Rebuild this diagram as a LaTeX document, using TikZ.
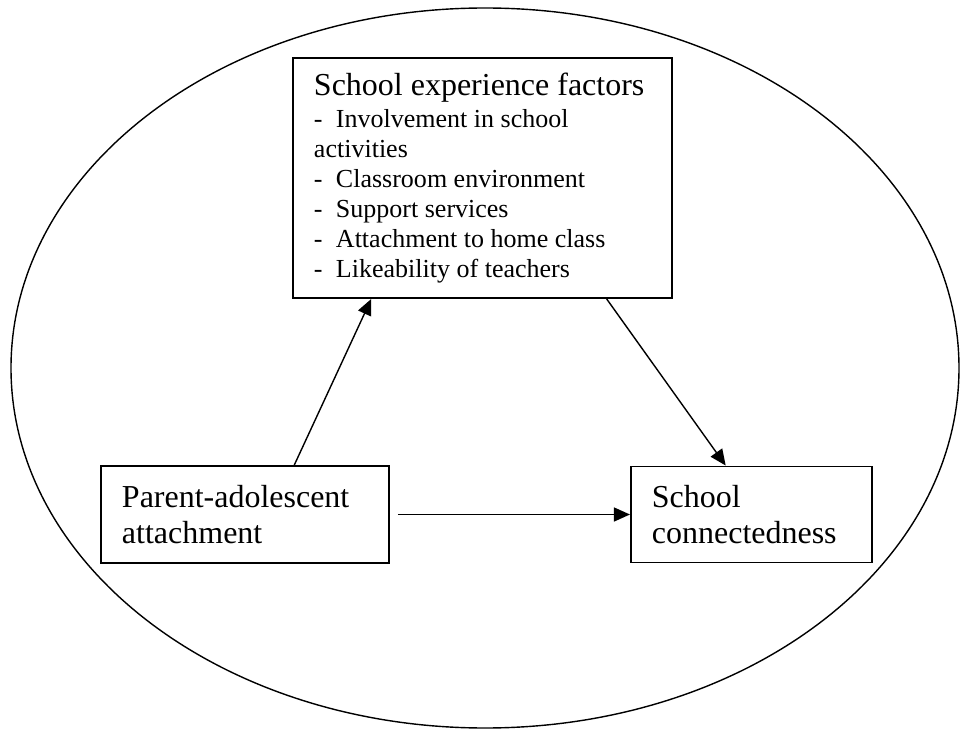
\documentclass[tikz,border=0pt]{standalone}
\usepackage{fontspec}
\setmainfont{Liberation Serif}
\usetikzlibrary{arrows.meta, positioning, calc}
\newcommand{\headfont}{\fontsize{18.2pt}{20.8pt}\selectfont}
\newcommand{\listfont}{\fontsize{14.8pt}{17.1pt}\selectfont}
\newcommand{\dashitem}{\makebox[0.44cm][l]{-}}

\begin{document}
\begin{tikzpicture}[
  ring/.style={draw=black, line width=0.8pt},
  box/.style={rectangle, draw=black, line width=1.1pt, inner xsep=0.42cm, align=flush left, font=\headfont},
  arrow/.style={-{Triangle[length=0.32cm, width=0.28cm]}, line width=0.8pt}
]
  \useasboundingbox (-9.7,-7.22) rectangle (9.5,7.36);
  \draw[ring] (0,0) ellipse [x radius=9.48, y radius=7.2];

  \node[box, text width=6.74cm, minimum height=4.8cm] (school) at (-0.05, 3.8)
    {School experience factors\par\vspace{1.4pt}
     {\listfont\dashitem Involvement in school\\
      activities\\
      \dashitem Classroom environment\\
      \dashitem Support services\\
      \dashitem Attachment to home class\\
      \dashitem Likeability of teachers\par}};
  \node[box, text width=4.92cm, minimum height=1.94cm] (parent) at (-4.8, -2.93)
    {Parent-adolescent\\attachment};
  \node[box, text width=3.98cm, minimum height=1.92cm, right=4.8cm of parent] (connect)
    {School\\connectedness};

  \draw[arrow] ($(parent.north west)!0.67!(parent.north east)$) -- ($(school.south west)!0.208!(school.south east)$);
  \draw[arrow] ($(school.south west)!0.826!(school.south east)$) -- ($(connect.north west)!0.394!(connect.north east)$);
  \draw[arrow, shorten <=0.16cm] (parent.east) -- (connect.west);
\end{tikzpicture}
\end{document}
